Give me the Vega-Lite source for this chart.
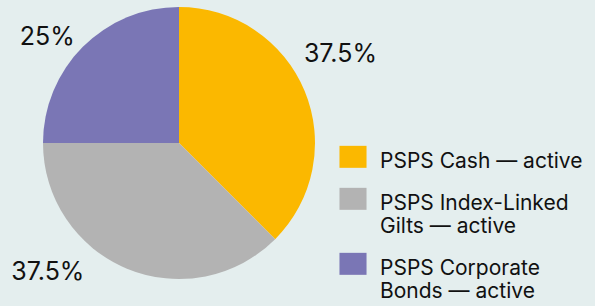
{
  "$schema": "https://vega.github.io/schema/vega-lite/v6.json",
  "width": 358,
  "height": 286,
  "autosize": {"type": "none"},
  "padding": {"left": 0, "top": 0, "right": 237, "bottom": 20},
  "background": "#e4eeee",
  "config": {"view": {"stroke": null}, "font": "Inter"},
  "data": {
    "values": [
      {"category": "PSPS Cash — active", "share": 37.5, "label": "37.5%", "order": 1},
      {"category": "PSPS Index-Linked Gilts — active", "share": 37.5, "label": "37.5%", "order": 2},
      {"category": "PSPS Corporate Bonds — active", "share": 25, "label": "25%", "order": 3}
    ]
  },
  "encoding": {
    "theta": {"field": "share", "type": "quantitative", "stack": true},
    "order": {"field": "order", "type": "quantitative"}
  },
  "layer": [
    {
      "mark": {"type": "arc", "outerRadius": 136},
      "encoding": {
        "color": {
          "field": "category",
          "type": "nominal",
          "sort": ["PSPS Cash — active", "PSPS Index-Linked Gilts — active", "PSPS Corporate Bonds — active"],
          "scale": {
            "domain": ["PSPS Cash — active", "PSPS Index-Linked Gilts — active", "PSPS Corporate Bonds — active"],
            "range": ["#fbb800", "#b3b3b3", "#7a76b5"]
          },
          "legend": {
            "title": null,
            "orient": "none",
            "legendX": 342,
            "legendY": 140,
            "padding": 0,
            "symbolType": "M-1.23,-0.47H1.23V1.53H-1.23Z",
            "symbolSize": 484,
            "symbolStrokeWidth": 0,
            "symbolOpacity": 1,
            "labelFont": "Inter",
            "labelFontSize": 21,
            "labelColor": "#111111",
            "labelOffset": 16,
            "labelLimit": 300,
            "labelLineHeight": 25,
            "labelBaseline": "top",
            "rowPadding": 10,
            "labelExpr": "datum.label == 'PSPS Index-Linked Gilts — active' ? ['PSPS Index-Linked', 'Gilts — active'] : datum.label == 'PSPS Corporate Bonds — active' ? ['PSPS Corporate', 'Bonds — active'] : datum.label"
          }
        }
      }
    },
    {
      "mark": {"type": "text", "fontSize": 25, "font": "Inter", "color": "#111111", "radius": 165, "dx": 9, "dy": -26},
      "encoding": {
        "text": {"condition": {"test": "datum.order == 1", "field": "label"}, "value": ""}
      }
    },
    {
      "mark": {"type": "text", "fontSize": 25, "font": "Inter", "color": "#111111", "radius": 165, "dx": -68, "dy": -23},
      "encoding": {
        "text": {"condition": {"test": "datum.order == 2", "field": "label"}, "value": ""}
      }
    },
    {
      "mark": {"type": "text", "fontSize": 25, "font": "Inter", "color": "#111111", "radius": 165, "dx": -15, "dy": 11},
      "encoding": {
        "text": {"condition": {"test": "datum.order == 3", "field": "label"}, "value": ""}
      }
    }
  ]
}
